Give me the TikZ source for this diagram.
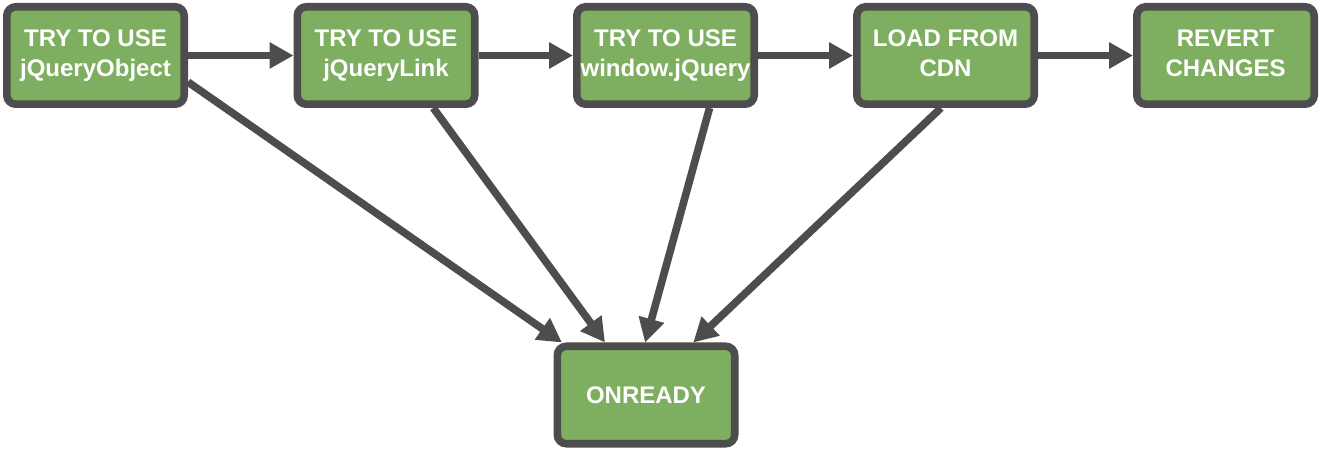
\documentclass[tikz,border=0pt]{standalone}
\usepackage{fontspec}
\setmainfont{Liberation Sans}
\usepackage{tikz}
\usetikzlibrary{arrows.meta}
\definecolor{boxgreen}{RGB}{126,175,96}
\definecolor{edgegray}{RGB}{77,77,77}

\begin{document}
\begin{tikzpicture}[x=0.5pt,y=-0.5pt]
  \tikzstyle{every node}=[font=\fontsize{12}{15}\selectfont\bfseries,text=white,align=center,
    execute at begin node={\rule{0pt}{12.5pt}},execute at end node={\rule[-2.5pt]{0pt}{1pt}}]
  \tikzstyle{box}=[draw=edgegray,fill=boxgreen,line width=3.8pt,rounded corners=4.5pt,
    minimum width=88.7pt,minimum height=48.7pt,inner sep=0pt]
  \tikzstyle{flow}=[draw=edgegray,line width=3.8pt,-{Triangle[length=12pt,width=12.5pt]}]
  \useasboundingbox (0,0) rectangle (1320,453);
  \path
  (95.5,55.5)  node[box] (obj)    {TRY TO USE\\jQueryObject}
  (386,55.5)   node[box] (link)   {TRY TO USE\\jQueryLink}
  (665.5,55.5) node[box] (win)    {TRY TO USE\\window.jQuery}
  (945.5,55.5) node[box] (cdn)    {LOAD FROM\\CDN}
  (1225.5,55.5) node[box] (revert) {REVERT\\CHANGES}
  (646,395)    node[box,execute at begin node=\strut] (ready) {ONREADY}
  ;
  % along the top row
  \draw[flow] (obj) -- (link);
  \draw[flow] (link) -- (win);
  \draw[flow] (win) -- (cdn);
  \draw[flow] (cdn) -- (revert);
  % down to onready
  \draw[flow] (obj.-16) -- (ready.148);
  \draw[flow] (link.-48) -- (ready.128);
  \draw[flow] (win.-50) -- (ready.91);
  \draw[flow] (cdn.-95) -- (ready.48);
\end{tikzpicture}
\end{document}
